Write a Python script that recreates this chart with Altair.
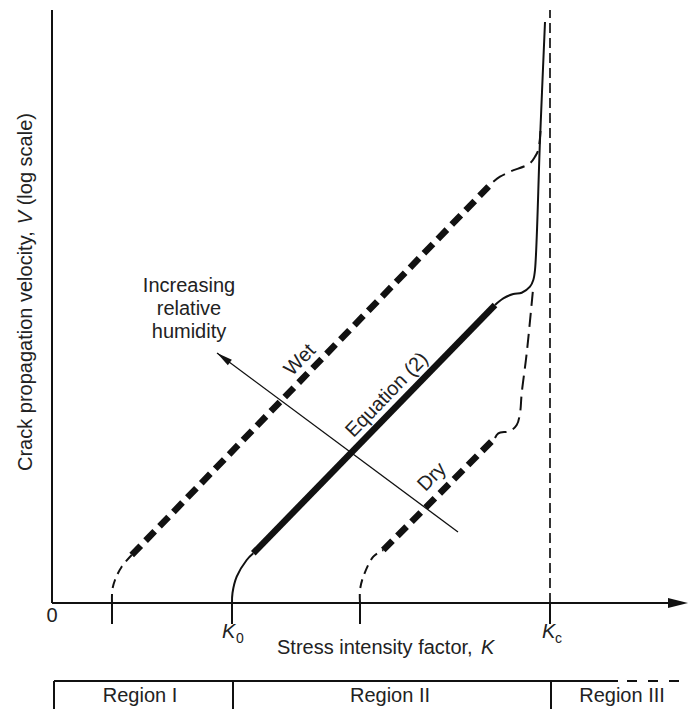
import altair as alt
import pandas as pd

FONT = "Liberation Sans"
INK = "#111111"
TXT = "#222222"

# ---------------- schematic data (K = stress intensity, V = log crack velocity; arbitrary units) ----------------
wet_low_k = [60, 60.3, 63, 69.7, 79.7]
wet_low_v = [0, 13, 23, 36.3, 48]
wet_main_k = [79.7, 441.3]
wet_main_v = [48, 421.3]
wet_high_k = [441.3, 448, 458, 478, 483, 486.3, 488.5]
wet_high_v = [421.3, 426.3, 431.3, 439.7, 446.3, 453, 472]

eq_low_k = [180, 180.5, 184.7, 194.7, 201.3]
eq_low_v = [0, 10, 26.3, 43, 49.7]
eq_main_k = [201.3, 443]
eq_main_v = [49.7, 298]
eq_high_k = [443, 451.3, 461.3, 469.7, 478, 481.3, 483, 488, 493]
eq_high_v = [298, 304.7, 309, 310.3, 316.3, 323, 333, 463, 581]

dry_low_k = [308, 308, 311.3, 321.3, 331.3]
dry_low_v = [0, 13, 26.3, 46.3, 53]
dry_main_k = [331.3, 443]
dry_main_v = [53, 165]
dry_high_k = [443, 446.3, 458, 464.7, 468, 469.7, 474.7, 479.7, 481.3]
dry_high_v = [165, 169.7, 172, 178, 189.7, 209.7, 249.7, 299.7, 316.3]

k_c = 498
tick_k = [60, 180, 308, 498]
v_top = 593
k_end = 636

humid_k = [406, 165]
humid_v = [71, 250]
humid_lines = ["Increasing", "relative", "humidity"]
humid_line_v = [311, 288, 265]

curve_labels = ["Wet", "Equation (2)", "Dry"]
curve_label_k = [248, 335, 380]
curve_label_v = [243, 208, 126]

region_names = ["Region I", "Region II", "Region III"]
region_center_k = [88, 338, 570]
region_edges_k = [2, 181, 499]

# ---------------- scales ----------------
xs = alt.Scale(domain=[0, k_end], nice=False, zero=False)
ys = alt.Scale(domain=[0, 595], nice=False, zero=False)


def X(f="k"):
    return alt.X(f"{f}:Q", scale=xs, axis=None)


def Y(f="v"):
    return alt.Y(f"{f}:Q", scale=ys, axis=None)


rows = []


def add(seg, style, ks, vs):
    for i, (k, v) in enumerate(zip(ks, vs)):
        rows.append(dict(seg=seg, style=style, i=i, k=k, v=v))


add("wet_low", "thin_dash_lo", wet_low_k, wet_low_v)
add("wet_main", "thick_dash", wet_main_k, wet_main_v)
add("wet_high", "thin_dash_hi", wet_high_k, wet_high_v)
add("eq_low", "thin_solid", eq_low_k, eq_low_v)
add("eq_main", "thick_solid", eq_main_k, eq_main_v)
add("eq_high", "thin_solid", eq_high_k, eq_high_v)
add("dry_low", "thin_dash_lo", dry_low_k, dry_low_v)
add("dry_main", "thick_dash", dry_main_k, dry_main_v)
add("dry_high", "thin_dash_hi", dry_high_k, dry_high_v)
curves = pd.DataFrame(rows)


def line_layer(style, width, dash=None):
    kw = dict(strokeWidth=width, color=INK, interpolate="catmull-rom", strokeCap="butt")
    if dash:
        kw["strokeDash"] = dash
    return (
        alt.Chart(curves)
        .transform_filter(alt.datum.style == style)
        .mark_line(**kw)
        .encode(x=X(), y=Y(), detail="seg:N", order="i:Q")
    )


layers = [
    line_layer("thin_dash_lo", 2, [9, 6]),
    line_layer("thin_dash_hi", 2, [14, 7]),
    line_layer("thick_dash", 6.5, [13, 7]),
    line_layer("thin_solid", 2),
    line_layer("thick_solid", 6.5),
]

# ---------------- axes (drawn) ----------------
segs = pd.DataFrame(
    {
        "k": [0, 0],
        "v": [0, 0],
        "k2": [k_end - 14, 0],
        "v2": [0, v_top],
    }
)
layers.append(
    alt.Chart(segs).mark_rule(color=INK, strokeWidth=2).encode(x=X(), y=Y(), x2="k2:Q", y2="v2:Q")
)
ticks = pd.DataFrame({"k": tick_k, "v": [0] * 4, "v2": [-21] * 4})
layers.append(alt.Chart(ticks).mark_rule(color=INK, strokeWidth=2).encode(x=X(), y=Y(), y2="v2:Q"))

kc = pd.DataFrame({"k": [k_c], "v": [0], "v2": [v_top]})
layers.append(
    alt.Chart(kc).mark_rule(color=INK, strokeWidth=1.7, strokeDash=[10, 5]).encode(x=X(), y=Y(), y2="v2:Q")
)

HEAD = "M0,0L-2,-0.5L-2,0.5Z"
arrow_x = pd.DataFrame({"k": [k_end], "v": [0]})
layers.append(
    alt.Chart(arrow_x)
    .mark_point(shape=HEAD, filled=True, size=400, color=INK, opacity=1, strokeWidth=0)
    .encode(x=X(), y=Y())
)

# ---------------- humidity arrow ----------------
hum = pd.DataFrame({"k": [humid_k[0]], "v": [humid_v[0]], "k2": [humid_k[1]], "v2": [humid_v[1]]})
layers.append(alt.Chart(hum).mark_rule(color=INK, strokeWidth=1.3).encode(x=X(), y=Y(), x2="k2:Q", y2="v2:Q"))
hum_head = pd.DataFrame({"k": [humid_k[1]], "v": [humid_v[1]]})
layers.append(
    alt.Chart(hum_head)
    .mark_point(shape="M0,0L-2,-0.42L-2,0.42Z", filled=True, size=256, angle=216.6, color=INK, opacity=1, strokeWidth=0)
    .encode(x=X(), y=Y())
)

# ---------------- region box ----------------
box_solid = pd.DataFrame({"k": [2], "v": [-78], "k2": [566], "v2": [-78]})
layers.append(alt.Chart(box_solid).mark_rule(color=INK, strokeWidth=2).encode(x=X(), y=Y(), x2="k2:Q", y2="v2:Q"))
box_dash = pd.DataFrame({"k": [575], "v": [-78], "k2": [628], "v2": [-78]})
layers.append(
    alt.Chart(box_dash)
    .mark_rule(color=INK, strokeWidth=2, strokeDash=[10, 11])
    .encode(x=X(), y=Y(), x2="k2:Q", y2="v2:Q")
)
box_v = pd.DataFrame({"k": region_edges_k, "v": [-78] * 3, "v2": [-130] * 3})
layers.append(alt.Chart(box_v).mark_rule(color=INK, strokeWidth=2).encode(x=X(), y=Y(), y2="v2:Q"))


# ---------------- text ----------------
def text_layer(df, **props):
    base = dict(font=FONT, fontSize=20, color=TXT)
    base.update(props)
    return alt.Chart(df).mark_text(**base).encode(x=X(), y=Y(), text="t:N")


layers.append(
    text_layer(
        pd.DataFrame({"t": region_names, "k": region_center_k, "v": [-99] * 3}),
        align="center",
        baseline="alphabetic",
    )
)
layers.append(
    text_layer(
        pd.DataFrame({"t": humid_lines, "k": [137] * 3, "v": humid_line_v}),
        align="center",
        baseline="alphabetic",
    )
)
layers.append(
    text_layer(
        pd.DataFrame({"t": curve_labels, "k": curve_label_k, "v": curve_label_v}),
        align="center",
        baseline="middle",
        angle=314,
    )
)
# y axis title
layers.append(
    text_layer(
        pd.DataFrame({"t": ["Crack propagation velocity,", "(log scale)"], "k": [-20, -20], "v": [132, 397.7]}),
        align="left",
        baseline="alphabetic",
        angle=270,
    )
)
layers.append(
    text_layer(
        pd.DataFrame({"t": ["V"], "k": [-20], "v": [378.8]}),
        align="left",
        baseline="alphabetic",
        angle=270,
        fontStyle="italic",
    )
)
# x axis labels
layers.append(text_layer(pd.DataFrame({"t": ["0"], "k": [0], "v": [-19]}), align="center", baseline="alphabetic"))
layers.append(
    text_layer(
        pd.DataFrame({"t": ["K", "K"], "k": [170, 490], "v": [-35, -35]}),
        align="left",
        baseline="alphabetic",
        fontStyle="italic",
    )
)
layers.append(
    text_layer(
        pd.DataFrame({"t": ["0", "c"], "k": [184, 503], "v": [-40, -40]}),
        align="left",
        baseline="alphabetic",
        fontSize=14,
    )
)
layers.append(
    text_layer(
        pd.DataFrame({"t": ["Stress intensity factor,"], "k": [225], "v": [-51]}),
        align="left",
        baseline="alphabetic",
    )
)
layers.append(
    text_layer(
        pd.DataFrame({"t": ["K"], "k": [429], "v": [-51]}),
        align="left",
        baseline="alphabetic",
        fontStyle="italic",
    )
)

chart = (
    alt.layer(*layers)
    .properties(
        width=636,
        height=595,
        padding={"left": 44, "top": 0, "right": 0, "bottom": 106},
        autosize="none",
        background="white",
    )
    .configure_view(stroke=None)
)

chart.save("out.html", embed_options={"renderer": "svg", "actions": False})
